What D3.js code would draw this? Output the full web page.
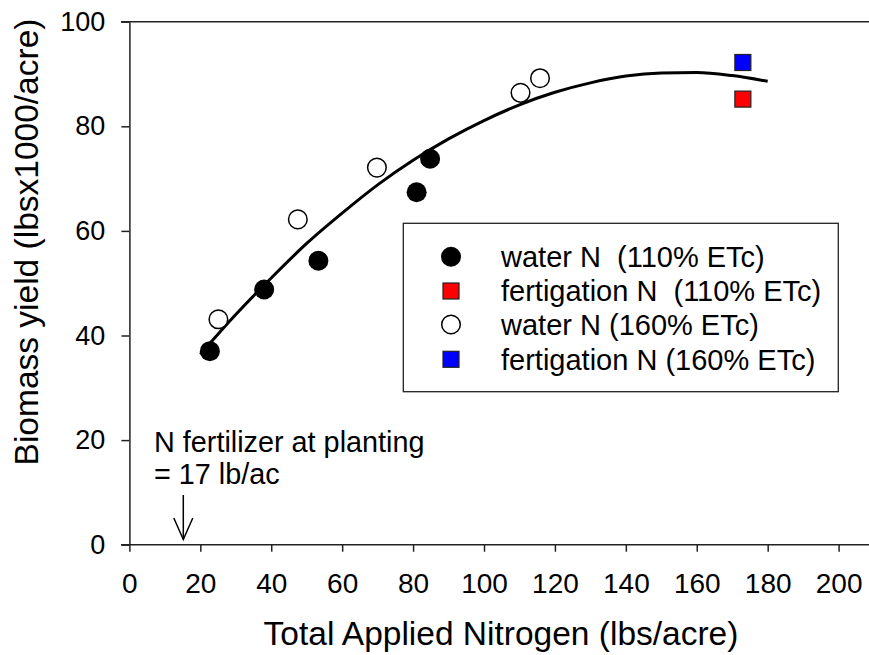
<!DOCTYPE html>
<html>
<head>
<meta charset="utf-8">
<script src="https://cdn.jsdelivr.net/npm/d3@7"></script>
<style>
  body { margin: 0; background: #fff; }
  text { font-family: "Liberation Sans", Arial, sans-serif; fill: #000; }
</style>
</head>
<body>
<div id="chart"></div>
<script>
// water N, 110% ETc (filled circles)
var water110 = [[22.7, 37.0], [38.0, 48.8], [53.3, 54.3], [81.0, 67.4], [84.8, 73.8]];
// water N, 160% ETc (open circles)
var water160 = [[25.1, 43.1], [47.5, 62.2], [69.8, 72.1], [110.3, 86.4], [115.8, 89.2]];
// fertigation points
var fert110 = [[173, 85.2]];
var fert160 = [[173, 92.2]];
// fitted curve
var fitX = [20, 30, 40, 50, 60, 70, 80, 90, 100, 110, 120, 130, 140, 150, 160, 170, 180];
var fitY = [36.4, 44.0, 51.0, 57.6, 63.4, 68.8, 73.5, 77.6, 81.1, 84.1, 86.5, 88.3, 89.6, 90.2, 90.3, 89.7, 88.6];
var xTicks = [0, 20, 40, 60, 80, 100, 120, 140, 160, 180, 200];
var yTicks = [0, 20, 40, 60, 80, 100];
var legendLabels = ["water N  (110% ETc)", "fertigation N  (110% ETc)", "water N (160% ETc)", "fertigation N (160% ETc)"];

var width = 869, height = 655;
var plotLeft = 129.4, plotTop = 21.7, plotBottom = 544.7;

var svg = d3.select("#chart").append("svg")
    .attr("width", width)
    .attr("height", height);

var x = d3.scaleLinear().domain([0, 210]).range([plotLeft, plotLeft + 210 * 3.546]);
var y = d3.scaleLinear().domain([0, 100]).range([plotBottom, plotTop]);

// top frame line
svg.append("line")
    .attr("x1", 121).attr("x2", width)
    .attr("y1", y(100)).attr("y2", y(100))
    .style("stroke", "#222").style("stroke-width", 1.5);

var xAxis = svg.append("g")
    .attr("transform", "translate(0," + plotBottom + ")")
    .call(d3.axisBottom(x).tickValues(xTicks).tickSize(7).tickSizeOuter(0).tickPadding(10));
xAxis.select(".domain").remove();
xAxis.append("line")
    .attr("x1", 121).attr("x2", width)
    .style("stroke", "#222").style("stroke-width", 1.5);
xAxis.selectAll(".tick line").style("stroke", "#222").style("stroke-width", 1.5);
xAxis.selectAll(".tick text")
    .style("font-size", "28px")
    .style("font-family", "'Liberation Sans', Arial, sans-serif")
    .attr("fill", "#000")
    .attr("y", 28)
    .attr("dy", "0.72em");

var yAxis = svg.append("g")
    .attr("transform", "translate(" + plotLeft + ",0)")
    .call(d3.axisLeft(y).tickValues(yTicks).tickSize(8).tickSizeOuter(0).tickPadding(16));
yAxis.select(".domain")
    .style("stroke", "#222").style("stroke-width", 1.5);
yAxis.selectAll(".tick line").style("stroke", "#222").style("stroke-width", 1.5);
yAxis.selectAll(".tick text")
    .style("font-size", "27px")
    .style("font-family", "'Liberation Sans', Arial, sans-serif")
    .attr("fill", "#000");

// axis titles
svg.append("text")
    .attr("x", 501).attr("y", 645)
    .attr("text-anchor", "middle")
    .style("font-size", "33.5px")
    .text("Total Applied Nitrogen (lbs/acre)");

svg.append("text")
    .attr("transform", "translate(38,242) rotate(-90)")
    .attr("text-anchor", "middle")
    .style("font-size", "33.5px")
    .text("Biomass yield (lbsx1000/acre)");

// fitted curve
var fit = fitX.map(function (d, i) { return [d, fitY[i]]; });
svg.append("path")
    .datum(fit)
    .attr("d", d3.line()
        .x(function (d) { return x(d[0]); })
        .y(function (d) { return y(d[1]); })
        .curve(d3.curveMonotoneX))
    .style("fill", "none")
    .style("stroke", "#000")
    .style("stroke-width", 3);

// points
svg.selectAll(".w110")
    .data(water110)
    .enter().append("circle")
    .attr("class", "w110")
    .attr("cx", function (d) { return x(d[0]); })
    .attr("cy", function (d) { return y(d[1]); })
    .attr("r", 10)
    .style("fill", "#000");

svg.selectAll(".w160")
    .data(water160)
    .enter().append("circle")
    .attr("class", "w160")
    .attr("cx", function (d) { return x(d[0]); })
    .attr("cy", function (d) { return y(d[1]); })
    .attr("r", 9.3)
    .style("fill", "#fff")
    .style("stroke", "#000")
    .style("stroke-width", 1.5);

function squares(data, color) {
    svg.selectAll(null)
        .data(data)
        .enter().append("rect")
        .attr("x", function (d) { return x(d[0]) - 8; })
        .attr("y", function (d) { return y(d[1]) - 8; })
        .attr("width", 16)
        .attr("height", 16)
        .style("fill", color)
        .style("stroke", "#222")
        .style("stroke-width", 1.2);
}
squares(fert110, "#ff0000");
squares(fert160, "#0000ff");

// legend
svg.append("rect")
    .attr("x", 403.3).attr("y", 223.3)
    .attr("width", 435).attr("height", 168.4)
    .style("fill", "#fff")
    .style("stroke", "#222")
    .style("stroke-width", 1.3);

var rowY = [256.7, 291, 324.5, 359.3];
legendLabels.forEach(function (label, i) {
    var cy = rowY[i];
    if (i == 0) {
        svg.append("circle").attr("cx", 451).attr("cy", cy).attr("r", 10).style("fill", "#000");
    } else if (i == 2) {
        svg.append("circle").attr("cx", 451).attr("cy", cy).attr("r", 9.3)
            .style("fill", "#fff").style("stroke", "#000").style("stroke-width", 1.5);
    } else {
        svg.append("rect").attr("x", 443).attr("y", cy - 8).attr("width", 16).attr("height", 16)
            .style("fill", i == 1 ? "#ff0000" : "#0000ff")
            .style("stroke", "#222").style("stroke-width", 1.2);
    }
    svg.append("text")
        .attr("x", 501).attr("y", cy)
        .attr("dy", "0.36em")
        .style("font-size", "29px")
        .style("white-space", "pre")
        .attr("xml:space", "preserve")
        .text(label);
});

// annotation
svg.append("text")
    .attr("x", 154).attr("y", 452)
    .style("font-size", "28.8px")
    .text("N fertilizer at planting");
svg.append("text")
    .attr("x", 154).attr("y", 484)
    .style("font-size", "28.8px")
    .text("= 17 lb/ac");

var ax = x(15.2);
svg.append("line")
    .attr("x1", ax).attr("x2", ax)
    .attr("y1", 495).attr("y2", 539)
    .style("stroke", "#000").style("stroke-width", 1.5);
svg.append("path")
    .attr("d", "M" + (ax - 9.5) + ",518 L" + ax + ",539.5 L" + (ax + 9.5) + ",518")
    .style("fill", "none").style("stroke", "#000").style("stroke-width", 1.5);
</script>
</body>
</html>
